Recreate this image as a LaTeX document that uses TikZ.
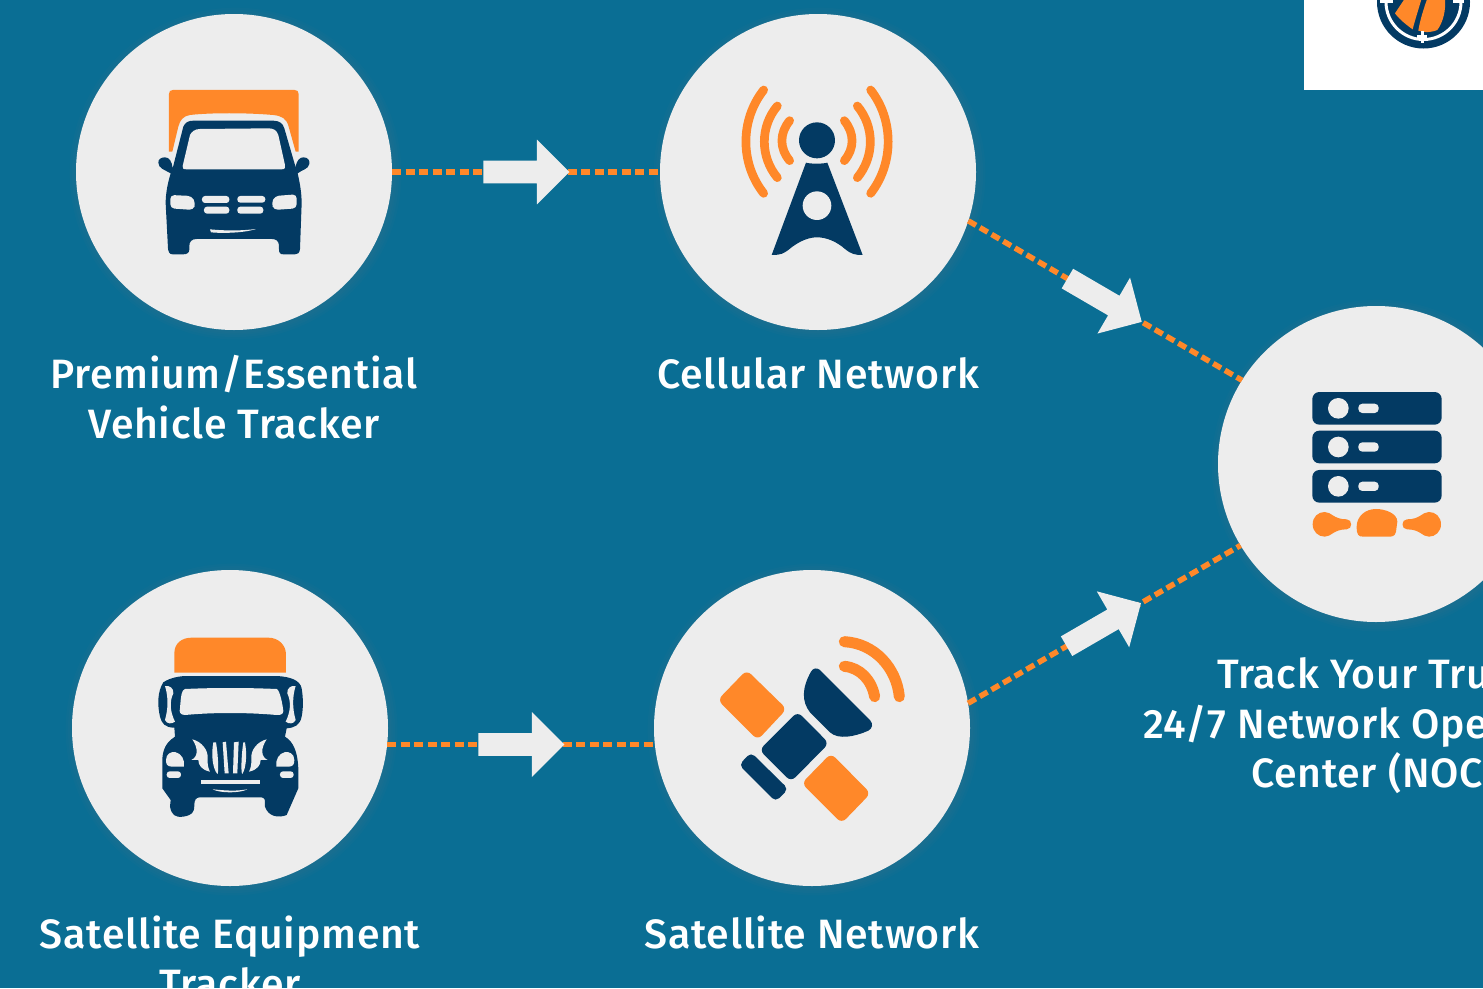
\documentclass[tikz,border=0pt]{standalone}
\usepackage{fontspec}
\setmainfont{Fira Sans Medium}[LetterSpace=1.9]
\usetikzlibrary{arrows.meta,positioning,shapes.arrows,shadows}
\definecolor{seaback}{HTML}{0A6E94}
\definecolor{discgray}{HTML}{EDEDED}
\definecolor{iconorange}{HTML}{FF8829}
\definecolor{iconnavy}{HTML}{033A63}

\begin{document}
\begin{tikzpicture}[
  x=1pt, y=-1pt,
  every node/.style={inner sep=0pt, outer sep=0pt},
  softshadow/.style={drop shadow={shadow scale=#1, shadow xshift=1.5pt, shadow yshift=-1.5pt, opacity=.035}},
  disc/.style={circle, fill=discgray, minimum size=316pt, softshadow=1.05, softshadow=1.035, softshadow=1.02, softshadow=1.01},
  caption/.style={font=\fontsize{41}{50}\selectfont, text=white, align=center, execute at begin node=\strut},
  capline/.style={font=\fontsize{41}{50}\selectfont, text=white, anchor=base west},
  flow/.style={draw=iconorange, line width=5.5pt, dash pattern=on 9pt off 4.5pt},
  blockarrow/.style={single arrow, fill=discgray, sloped, pos=.48, inner xsep=0pt, inner ysep=8.6pt, minimum height=86pt, minimum width=64pt, single arrow head extend=21pt, single arrow head indent=0pt},
  icon/.style={x=.3333pt, y=-.3333pt},
  wave/.style={draw=iconorange, line cap=round}
]
\path[use as bounding box] (0,0) rectangle (1483,988);
\clip (0,0) rectangle (1483,988);
\fill[seaback] (0,0) rectangle (1483,988);

% discs
\node[disc] (tracker) at (234,172) {};
\node[disc] (cellular) at (818,172) {};
\node[disc] (noc) at (1376,464) {};
\node[disc] (equipment) at (230,728) {};
\node[disc] (satellite) at (812,728) {};

% captions
\node[caption, below=25pt of tracker] (trackerlabel) {Premium/Essential\\Vehicle Tracker};
\node[caption, below=23pt of cellular] (cellularlabel) {Cellular Network};
\node[caption, below=30pt of equipment] (equipmentlabel) {Satellite Equipment\\Tracker};
\node[caption, below=27pt of satellite] (satellitelabel) {Satellite Network};
\node[capline] (noclabela) at (1217,688) {Track Your Tru};
\node[capline] (noclabelb) at (1143,738) {24/7 Network Ope};
\node[capline] (noclabelc) at (1251,787) {Center (NOC};

% connectors
\draw[flow] (tracker) -- node[blockarrow] (arrowa) {} (cellular);
\draw[flow] (equipment.-6.2) -- node[blockarrow] (arrowb) {} (satellite.186.2);
\draw[flow] (cellular.-18.6) -- node[blockarrow] (arrowc) {} (noc.148.5);
\draw[flow] (satellite.9) -- node[blockarrow] (arrowd) {} (noc.211);

% logo
\fill[white] (1304,0) rectangle (1483,90);
\fill[iconnavy] (1423.5,2) circle (46.5);
\draw[white, line width=3pt] (1423.5,2) circle (37.5);
\begin{scope}[shift={(1290,0)}, icon]
\fill[iconorange] (345,-5) -- (315,40) .. controls (330,60) and (350,75) .. (368,88) .. controls (375,60) and (385,30) .. (395,-5) -- cycle;
\fill[iconorange] (412,-5) .. controls (400,30) and (390,60) .. (385,92) .. controls (410,100) and (430,95) .. (442,90) .. controls (460,65) and (468,30) .. (465,-5) -- cycle;
\fill[white] (392,92) rectangle (402,128);
\fill[white] (382,105) rectangle (412,114);
\fill[white] (270,0) rectangle (308,10);
\fill[white] (488,0) rectangle (522,10);
\end{scope}

% truck icon
\begin{scope}[shift={(130,70)}, icon]
\fill[iconorange] (117,245) -- (117,72) .. controls (117,64) and (121,60) .. (129,60) -- (494,60) .. controls (502,60) and (506,64) .. (506,72) -- (506,245) -- (497,245) -- (476,170) .. controls (470,145) and (455,138) .. (430,135) .. controls (350,128) and (240,128) .. (180,135) .. controls (160,138) and (150,150) .. (145,170) -- (127,245) -- cycle;
\fill[iconnavy] (190,152) -- (430,152) .. controls (450,153) and (458,160) .. (463,175) -- (497,292) .. controls (500,270) and (510,262) .. (520,262) .. controls (535,262) and (540,272) .. (538,282) .. controls (535,298) and (515,300) .. (503,310) .. controls (510,340) and (515,370) .. (515,400) -- (510,538) .. controls (508,550) and (503,553) .. (495,553) -- (460,553) .. controls (450,553) and (447,548) .. (447,538) -- (447,525) .. controls (445,512) and (438,507) .. (425,507) -- (200,507) .. controls (185,507) and (178,515) .. (178,528) -- (178,538) .. controls (178,548) and (172,553) .. (160,553) -- (128,553) .. controls (118,553) and (115,545) .. (114,535) -- (107,400) .. controls (107,370) and (113,340) .. (122,310) .. controls (105,300) and (85,295) .. (85,278) .. controls (85,268) and (92,262) .. (105,262) .. controls (118,262) and (126,275) .. (128,295) -- (160,170) .. controls (165,158) and (175,152) .. (190,152) -- cycle;
\fill[discgray] (158,288) .. controls (156,295) and (160,298) .. (170,298) -- (455,298) .. controls (465,298) and (467,292) .. (465,285) -- (445,195) .. controls (440,180) and (430,175) .. (415,175) -- (210,177) .. controls (195,177) and (185,185) .. (180,195) -- cycle;
\fill[discgray, rounded corners=4pt] (121,375) -- (185,378) -- (197,400) -- (190,420) -- (121,415) -- cycle;
\fill[discgray, rounded corners=4pt] (500,373) -- (435,378) -- (424,400) -- (432,420) -- (500,415) -- cycle;
\fill[discgray, rounded corners=3pt] (216,378) rectangle (298,399);
\fill[discgray, rounded corners=3pt] (222,410) rectangle (298,431);
\fill[discgray, rounded corners=3pt] (322,378) rectangle (406,398);
\fill[discgray, rounded corners=3pt] (322,410) rectangle (400,431);
\fill[discgray] (240,478) .. controls (290,483) and (340,482) .. (378,477) .. controls (340,490) and (270,490) .. (243,487) -- cycle;
\end{scope}

% tower icon
\begin{scope}[shift={(720,70)}, icon]
\fill[iconnavy] (291,211) circle[radius=54];
\fill[iconnavy] (258,278) .. controls (270,282) and (310,282) .. (322,278) -- (428,555) .. controls (405,555) and (395,553) .. (375,537) .. controls (350,515) and (320,502) .. (291,502) .. controls (270,502) and (240,510) .. (205,540) .. controls (190,550) and (185,555) .. (155,555) -- cycle;
\fill[discgray] (291,407) circle[radius=43];
\draw[wave, line width=8.7pt] (131,60) .. controls (60,150) and (60,280) .. (131,370);
\draw[wave, line width=8.7pt] (172,108) .. controls (120,170) and (120,260) .. (172,323);
\draw[wave, line width=8.7pt] (209,152) .. controls (178,190) and (178,235) .. (209,272);
\draw[wave, line width=8.7pt] (452,60) .. controls (522,150) and (522,280) .. (452,370);
\draw[wave, line width=8.7pt] (412,108) .. controls (464,170) and (464,260) .. (412,323);
\draw[wave, line width=8.7pt] (373,152) .. controls (404,190) and (404,235) .. (373,272);
\end{scope}

% server icon
\begin{scope}[shift={(1290,380)}, icon]
\foreach \rowy in {36,152,270} {
  \fill[iconnavy, rounded corners=7pt] (67,\rowy) rectangle (455,\rowy+98);
  \fill[discgray] (145,\rowy+49) circle[radius=31];
  \fill[discgray, rounded corners=4pt] (205,\rowy+35) rectangle (266,\rowy+63);
}
\fill[iconorange] (68,433) .. controls (68,410) and (85,396) .. (104,396) .. controls (125,396) and (130,418) .. (170,418) .. controls (188,418) and (188,448) .. (170,448) .. controls (130,448) and (125,470) .. (104,470) .. controls (85,470) and (68,455) .. (68,433) -- cycle;
\fill[iconorange] (453,433) .. controls (453,410) and (436,396) .. (417,396) .. controls (396,396) and (391,418) .. (351,418) .. controls (333,418) and (333,448) .. (351,448) .. controls (391,448) and (396,470) .. (417,470) .. controls (436,470) and (453,455) .. (453,433) -- cycle;
\fill[iconorange] (200,440) .. controls (200,410) and (225,387) .. (258,387) .. controls (285,387) and (322,400) .. (322,425) -- (318,455) .. controls (315,470) and (305,470) .. (295,470) -- (220,470) .. controls (205,470) and (200,465) .. (200,440) -- cycle;
\end{scope}

% big truck icon
\begin{scope}[shift={(130,625)}, icon]
\fill[iconorange] (133,143) -- (133,85) .. controls (133,55) and (155,38) .. (185,38) -- (415,38) .. controls (445,38) and (468,60) .. (468,88) -- (468,143) -- cycle;
\fill[iconnavy] (100,172) .. controls (120,158) and (150,153) .. (170,153) -- (440,153) .. controls (480,155) and (510,165) .. (515,190) .. controls (520,220) and (520,250) .. (515,275) .. controls (510,300) and (495,308) .. (470,310) -- (465,335) .. controls (490,350) and (503,380) .. (505,430) -- (505,490) -- (470,570) .. controls (445,580) and (415,575) .. (405,545) -- (405,530) .. controls (405,520) and (400,517) .. (390,517) -- (210,517) .. controls (198,517) and (193,525) .. (193,540) .. controls (193,565) and (185,570) .. (160,575) .. controls (135,578) and (125,570) .. (120,545) -- (122,525) -- (97,490) -- (97,400) .. controls (100,360) and (120,345) .. (135,335) -- (133,308) .. controls (105,308) and (95,295) .. (90,275) .. controls (82,240) and (82,200) .. (100,172) -- cycle;
\fill[discgray] (165,192) .. controls (250,188) and (350,188) .. (440,192) .. controls (450,195) and (458,240) .. (460,258) .. controls (460,268) and (450,271) .. (440,270) .. controls (350,262) and (250,262) .. (165,270) .. controls (150,270) and (147,260) .. (150,250) .. controls (153,210) and (155,195) .. (165,192) -- cycle;
\fill[discgray] (105,183) .. controls (118,180) and (132,190) .. (130,205) .. controls (118,230) and (120,260) .. (135,290) .. controls (125,298) and (110,297) .. (105,285) .. controls (115,250) and (115,215) .. (105,183) -- cycle;
\fill[discgray] (497,183) .. controls (484,180) and (470,190) .. (472,205) .. controls (484,230) and (482,260) .. (467,290) .. controls (477,298) and (492,297) .. (497,285) .. controls (487,250) and (487,215) .. (497,183) -- cycle;
\fill[discgray] (187,343) .. controls (215,350) and (235,375) .. (233,400) .. controls (232,420) and (235,430) .. (240,440) .. controls (215,435) and (205,420) .. (205,405) -- (184,405) .. controls (205,395) and (205,370) .. (187,343) -- cycle;
\fill[discgray] (410,343) .. controls (382,350) and (362,375) .. (364,400) .. controls (365,420) and (362,430) .. (357,440) .. controls (382,435) and (392,420) .. (392,405) -- (413,405) .. controls (392,395) and (392,370) .. (410,343) -- cycle;
\fill[discgray] (250,352) .. controls (243,390) and (248,430) .. (262,447) .. controls (266,447) and (266,400) .. (258,352) -- cycle;
\fill[discgray] (278,352) -- (288,350) -- (296,445) -- (284,445) -- cycle;
\fill[discgray] (312,352) -- (326,350) -- (322,445) -- (309,445) -- cycle;
\fill[discgray] (345,352) .. controls (352,390) and (348,430) .. (337,447) .. controls (333,447) and (333,400) .. (340,352) -- cycle;
\fill[discgray] (108,405) .. controls (108,385) and (125,380) .. (135,381) .. controls (155,385) and (165,405) .. (162,425) -- (125,425) .. controls (110,425) and (108,415) .. (108,405) -- cycle;
\fill[discgray] (493,405) .. controls (493,385) and (476,380) .. (466,381) .. controls (446,385) and (436,405) .. (439,425) -- (476,425) .. controls (491,425) and (493,415) .. (493,405) -- cycle;
\fill[discgray, rounded corners=3pt] (110,439) rectangle (153,459);
\fill[discgray, rounded corners=3pt] (450,439) rectangle (491,459);
\fill[discgray] (212,466) rectangle (390,477);
\fill[discgray] (248,493) .. controls (300,498) and (320,498) .. (352,493) .. controls (330,505) and (270,505) .. (248,493) -- cycle;
\end{scope}

% satellite icon
\begin{scope}[shift={(705,625)}, icon]
\fill[iconorange, rounded corners=6pt] (125,135) -- (245,252) -- (158,345) -- (38,225) -- cycle;
\fill[iconorange, rounded corners=6pt] (378,385) -- (497,505) -- (410,595) -- (290,475) -- cycle;
\fill[iconnavy, rounded corners=6pt] (278,260) -- (372,355) -- (258,470) -- (163,375) -- cycle;
\fill[iconnavy, rounded corners=5pt] (138,382) -- (250,492) -- (212,530) -- (102,420) -- cycle;
\fill[iconnavy] (318,140) .. controls (325,128) and (335,128) .. (345,135) -- (495,285) .. controls (505,297) and (503,310) .. (490,317) .. controls (450,335) and (400,345) .. (375,322) -- (315,262) .. controls (290,230) and (290,190) .. (318,140) -- cycle;
\draw[wave, line width=11pt] (418,50) .. controls (510,55) and (575,130) .. (583,215);
\draw[wave, line width=11pt] (418,124) .. controls (465,128) and (500,165) .. (509,215);
\end{scope}
\end{tikzpicture}
\end{document}
